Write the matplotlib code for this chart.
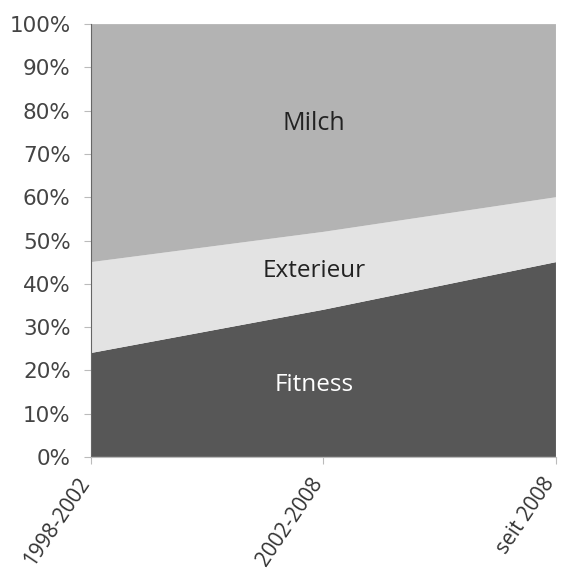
import matplotlib
matplotlib.use("Agg")
import matplotlib.pyplot as plt
import matplotlib.transforms as mtransforms
import numpy as np

periods = ["1998-2002", "2002-2008", "seit 2008"]
fitness = [24, 34, 45]
exterieur = [21, 18, 15]
milch = [55, 48, 40]
series_names = ["Fitness", "Exterieur", "Milch"]
colors = ["#575757", "#e3e3e3", "#b3b3b3"]
label_colors = ["white", "#222222", "#222222"]
label_y = [16.5, 43, 77]
label_size = [17.5, 17.5, 18]

fig = plt.figure(figsize=(5.61, 5.74), dpi=100)
ax = fig.add_axes([0.162, 0.204, 0.829, 0.754])

x = np.arange(len(periods))
ax.stackplot(x, fitness, exterieur, milch, colors=colors, linewidth=0)

for name, c, yy, fs in zip(series_names, label_colors, label_y, label_size):
    ax.text(0.96, yy, name, color=c, ha="center", va="center",
            fontsize=fs, family="Open Sans")

ax.set_xlim(0, 2)
ax.set_ylim(0, 100)
ax.set_yticks(np.arange(0, 101, 10))
ax.set_yticklabels([f"{v}%" for v in range(0, 101, 10)],
                   fontsize=15.5, color="#444444", family="DejaVu Sans")
ax.set_xticks(x)
ax.set_xticklabels([])

# rotated period labels, placed under each tick with a small offset
offset = mtransforms.ScaledTranslation(-4 / 72, -16 / 72, fig.dpi_scale_trans)
for xi, name in zip(x, periods):
    ax.text(xi, 0, name, transform=ax.get_xaxis_transform() + offset,
            rotation=56, ha="right", va="center", rotation_mode="anchor",
            fontsize=15, color="#333333", family="Open Sans", clip_on=False)

for s in ["top", "right"]:
    ax.spines[s].set_visible(False)
ax.spines["left"].set_color("#666666")
ax.spines["bottom"].set_color("#bbbbbb")
ax.tick_params(axis="y", length=5, color="#bbbbbb", pad=9.5)
ax.tick_params(axis="x", length=5, color="#bbbbbb")

fig.savefig("out.png", dpi=100)
